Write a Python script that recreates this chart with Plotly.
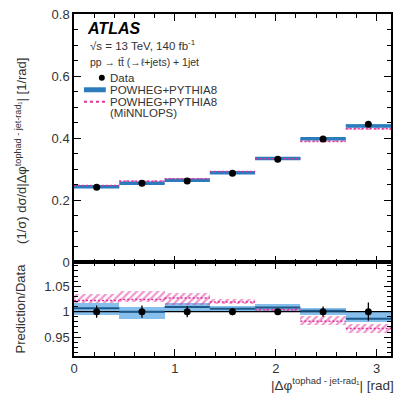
import plotly.graph_objects as go

# ---------------- data ----------------
bin_edges = [0.0, 0.449, 0.898, 1.346, 1.795, 2.244, 2.693, 3.1416]
data_val = [0.242, 0.255, 0.262, 0.287, 0.332, 0.397, 0.445]
data_err_ratio = [0.012, 0.012, 0.011, 0.007, 0.004, 0.010, 0.018]

powheg_ratio = [1.007, 1.000, 1.009, 1.006, 1.008, 1.002, 0.986]
powheg_lo = [0.993, 0.985, 1.000, 1.000, 1.001, 0.993, 0.980]
powheg_hi = [1.016, 1.008, 1.016, 1.011, 1.014, 1.007, 0.998]

minnlo_ratio = [1.022, 1.024, 1.027, 1.019, 1.004, 0.981, 0.967]
minnlo_lo = [1.016, 1.018, 1.013, 1.014, 1.001, 0.973, 0.957]
minnlo_hi = [1.035, 1.040, 1.037, 1.025, 1.007, 0.991, 0.976]

x_ticks = [0, 1, 2, 3]

# ---------------- helpers ----------------
centers = [(bin_edges[i] + bin_edges[i + 1]) / 2 for i in range(len(data_val))]
widths = [bin_edges[i + 1] - bin_edges[i] for i in range(len(data_val))]


def segs(vals):
    xs, ys = [], []
    for i, v in enumerate(vals):
        xs += [bin_edges[i], bin_edges[i + 1], None]
        ys += [v, v, None]
    return xs, ys


BLUE_BAND = "rgba(95,170,230,0.75)"
BLUE_LINE = "#2c7bbd"
BLUE_DARK = "#1d5a8a"
PINK = "#e0309a"

fig = go.Figure()

pw_abs = [r * d for r, d in zip(powheg_ratio, data_val)]
pw_lo_abs = [r * d for r, d in zip(powheg_lo, data_val)]
pw_hi_abs = [r * d for r, d in zip(powheg_hi, data_val)]
mn_abs = [r * d for r, d in zip(minnlo_ratio, data_val)]
mn_lo_abs = [r * d for r, d in zip(minnlo_lo, data_val)]
mn_hi_abs = [r * d for r, d in zip(minnlo_hi, data_val)]


def add_panel(xa, ya, pw, pwl, pwh, mn, mnl, mnh, data_y, data_e, blue_w):
    fig.add_trace(go.Bar(x=centers, y=[h - l for h, l in zip(pwh, pwl)], base=pwl,
                         width=widths, marker=dict(color=BLUE_BAND, line=dict(width=0)),
                         xaxis=xa, yaxis=ya, showlegend=False, hoverinfo="skip"))
    fig.add_trace(go.Bar(x=centers, y=[h - l for h, l in zip(mnh, mnl)], base=mnl,
                         width=widths,
                         marker=dict(color="rgba(0,0,0,0)", line=dict(width=0),
                                     pattern=dict(shape="/", fgcolor=PINK, bgcolor="rgba(255,255,255,0)",
                                                  size=5, solidity=0.45, fillmode="overlay")),
                         xaxis=xa, yaxis=ya, showlegend=False, hoverinfo="skip"))
    sx, sy = segs(pw)
    fig.add_trace(go.Scatter(x=sx, y=sy, mode="lines", line=dict(color=blue_w[0], width=blue_w[1]),
                             xaxis=xa, yaxis=ya, showlegend=False, hoverinfo="skip"))
    sx, sy = segs(mn)
    fig.add_trace(go.Scatter(x=sx, y=sy, mode="lines", line=dict(color=PINK, width=1.5, dash="2px,2px"),
                             xaxis=xa, yaxis=ya, showlegend=False, hoverinfo="skip"))
    fig.add_trace(go.Scatter(x=centers, y=data_y, mode="markers",
                             marker=dict(color="black", size=7),
                             error_y=dict(type="data", array=data_e, color="black", thickness=1.3, width=0),
                             xaxis=xa, yaxis=ya, showlegend=False, hoverinfo="skip"))


add_panel("x", "y", pw_abs, pw_lo_abs, pw_hi_abs, mn_abs, mn_lo_abs, mn_hi_abs,
          data_val, [e * d for e, d in zip(data_err_ratio, data_val)], (BLUE_LINE, 3.5))

fig.add_trace(go.Scatter(x=[bin_edges[0], bin_edges[-1]], y=[1, 1], mode="lines",
                         line=dict(color="black", width=1.2), xaxis="x2", yaxis="y2",
                         showlegend=False, hoverinfo="skip"))
add_panel("x2", "y2", powheg_ratio, powheg_lo, powheg_hi, minnlo_ratio, minnlo_lo, minnlo_hi,
          [1.0] * len(data_val), data_err_ratio, (BLUE_DARK, 2))

FONT = "Liberation Sans, Arial, sans-serif"
TXT = "#333333"
split = 0.274

axis_common = dict(showline=True, linecolor="black", linewidth=1.5, mirror="allticks",
                   ticks="inside", ticklen=7, tickwidth=1.3, tickcolor="black",
                   showgrid=False, zeroline=False,
                   tickfont=dict(family=FONT, size=13, color=TXT))

fig.update_layout(
    width=400, height=394,
    margin=dict(l=74, r=7, t=13, b=38),
    paper_bgcolor="white", plot_bgcolor="white",
    barmode="overlay", bargap=0,
    font=dict(family=FONT, color=TXT),
    showlegend=False,
    xaxis=dict(domain=[0, 1], anchor="y", range=[0, 3.1416], showticklabels=False,
               tickvals=x_ticks, minor=dict(ticks="inside", ticklen=4, dtick=0.2, tick0=0, tickcolor="black"),
               **axis_common),
    yaxis=dict(domain=[split, 1], anchor="x", range=[0, 0.8], tickvals=[0, 0.2, 0.4, 0.6, 0.8],
               ticktext=["0", "0.2", "0.4", "0.6", "0.8"],
               minor=dict(ticks="inside", ticklen=4, dtick=0.05, tick0=0, tickcolor="black"),
               **axis_common),
    xaxis2=dict(domain=[0, 1], anchor="y2", range=[0, 3.1416], tickvals=x_ticks,
                minor=dict(ticks="inside", ticklen=4, dtick=0.2, tick0=0, tickcolor="black"),
                **axis_common),
    yaxis2=dict(domain=[0, split], anchor="x2", range=[0.913, 1.097], tickvals=[0.95, 1.0, 1.05],
                ticktext=["0.95", "1", "1.05"],
                minor=dict(ticks="inside", ticklen=4, dtick=0.01, tick0=0.9, tickcolor="black"),
                **axis_common),
)


def px2paper(xp, yp):
    return (xp - 74) / 319, (356 - yp) / 343


def label(xp, yp, text, size, color=TXT, xanchor="left", angle=0):
    ax, ay = px2paper(xp, yp)
    fig.add_annotation(xref="paper", yref="paper", x=ax, y=ay, xanchor=xanchor, yanchor="middle",
                       showarrow=False, text=text, textangle=angle,
                       font=dict(family=FONT, size=size, color=color))


# axis titles
label(20, 150, "(1/σ) dσ/d|Δφ<sup>tophad - jet-rad₁</sup>| [1/rad]", 13, xanchor="center", angle=-90)
label(20, 308, "Prediction/Data", 13, xanchor="center", angle=-90)
label(398, 384, "|Δφ<sup>tophad - jet-rad₁</sup>| [rad]", 13.5, xanchor="right")

# header texts
label(85, 28, "<b><i>ATLAS</i></b>", 16, color="black")
label(88, 44, "√s = 13 TeV, 140 fb<sup>-1</sup>", 11.5)
label(88, 61, "pp → tt̄ (→ℓ+jets) + 1jet", 10.5)

legend_items = [("Data", 77), ("POWHEG+PYTHIA8", 89), ("POWHEG+PYTHIA8", 101), ("(MiNNLOPS)", 112)]
for t, yy in legend_items:
    label(108, yy, t, 11.5)

x0, y0 = px2paper(102, 77)
fig.add_shape(type="circle", xref="paper", yref="paper",
              x0=x0 - 3 / 319, x1=x0 + 3 / 319, y0=y0 - 3 / 343, y1=y0 + 3 / 343,
              fillcolor="black", line=dict(color="black", width=0))
xa0, ya0 = px2paper(84, 89)
xa1, _ = px2paper(106, 89)
fig.add_shape(type="rect", xref="paper", yref="paper", x0=xa0, x1=xa1, y0=ya0 - 2.5 / 343, y1=ya0 + 2.5 / 343,
              fillcolor=BLUE_LINE, line=dict(width=0))
xa0, ya0 = px2paper(84, 101)
fig.add_shape(type="line", xref="paper", yref="paper", x0=xa0, x1=xa1, y0=ya0, y1=ya0,
              line=dict(color=PINK, width=2, dash="dot"))

fig.write_html("out.html", config={"displayModeBar": False},
               post_script="document.body.style.margin='0px';document.body.style.overflow='hidden';")
